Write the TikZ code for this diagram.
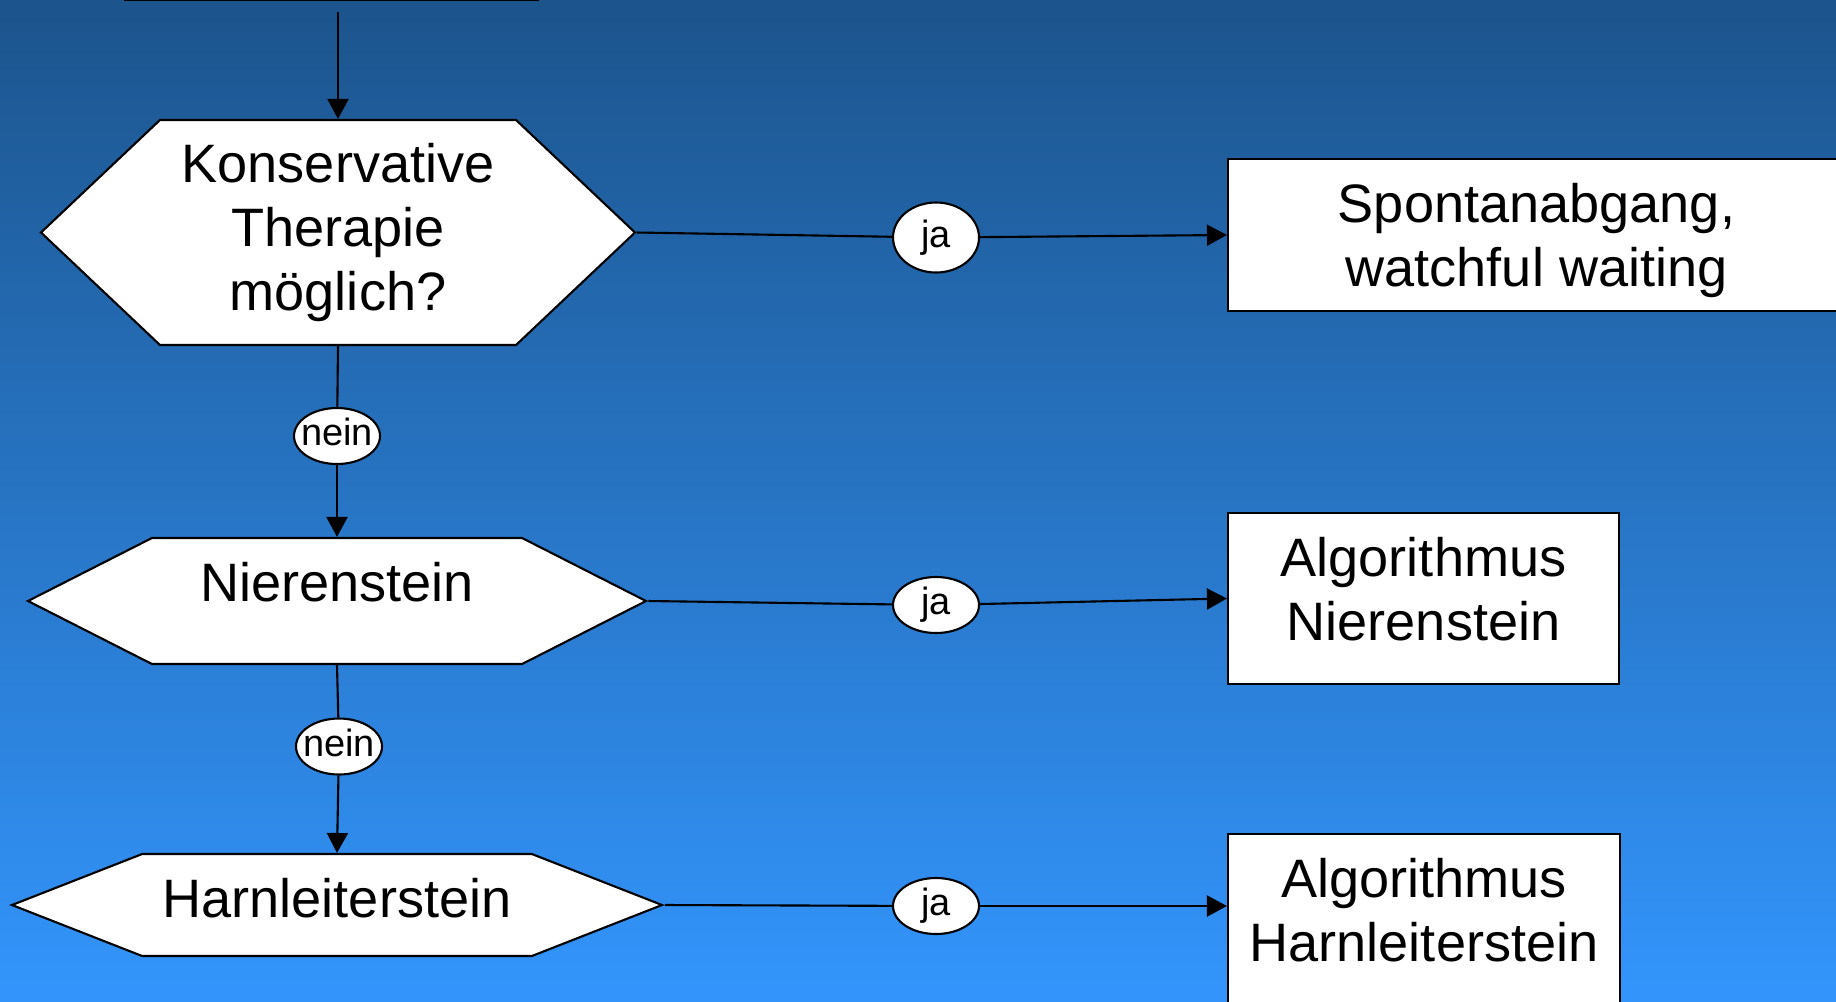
\documentclass[tikz,border=0pt]{standalone}
\usepackage{fontspec}
\setmainfont{Liberation Sans}
\usepackage{tikz}
\usetikzlibrary{arrows.meta}
\usetikzlibrary{shapes.symbols}
\usetikzlibrary{shapes.geometric}
\definecolor{oben}{RGB}{28,84,140}
\definecolor{unten}{RGB}{51,149,252}
\newcommand{\antw}[1]{\makebox[0pt]{#1}}

\begin{document}
\begin{tikzpicture}[frage/.style={draw,fill=white,shape=signal,signal to=west and east,inner sep=0pt,align=center,font=\fontsize{15.4}{18.2}\selectfont},
	kasten/.style={draw,fill=white,rectangle,inner sep=0pt,align=center,font=\fontsize{15.4}{18.2}\selectfont},
	antwort/.style={draw,fill=white,ellipse,inner sep=0pt,minimum width=8.6mm,minimum height=5.6mm,text height=5.6pt,text depth=0pt,font=\fontsize{10.8}{13}\selectfont},
	pfeil/.style={-{Triangle[length=2mm,width=2.1mm]}},line width=0.6pt]
		\useasboundingbox (0,0) rectangle (18.36,-10.01);
		\clip (0,0) rectangle (18.36,-10.01);
		\shade[top color=oben,bottom color=unten] (0,0) rectangle (18.36,-10.01);
		\node[kasten,minimum width=41.3mm,minimum height=10mm] (start) at (3.315,0.5) {};
		\node[frage,minimum width=59.4mm,minimum height=22.5mm,signal pointer angle=86.8,text depth=1.2mm] (konserv) at (3.38,-2.325) {Konservative\\Therapie\\möglich?};
		\node[frage,minimum width=61.8mm,minimum height=12.6mm,signal pointer angle=53.9,text height=0pt,text depth=0pt] (niere) at (3.37,-6.01) {Nierenstein};
		\node[frage,minimum width=65mm,minimum height=10.2mm,signal pointer angle=42.8,text height=2.4mm,text depth=0pt] (harnl) at (3.37,-9.05) {Harnleiterstein};
		\node[antwort] (nein1) at (3.37,-4.36) {\antw{nein}};
		\node[antwort] (nein2) at (3.39,-7.465) {\antw{nein}};
		\node[antwort,minimum height=7mm] (ja1) at (9.36,-2.375) {\antw{ja}};
		\node[antwort] (ja2) at (9.36,-6.05) {\antw{ja}};
		\node[antwort] (ja3) at (9.36,-9.06) {\antw{ja}};
		\node[kasten,minimum width=61.7mm,minimum height=15.2mm,text depth=0pt] (spontan) at (15.365,-2.35) {Spontanabgang,\\watchful waiting};
		\node[kasten,minimum width=39.1mm,minimum height=17.1mm,text depth=2mm] (algniere) at (14.235,-5.985) {Algorithmus\\Nierenstein};
		\node[kasten,minimum width=39.2mm,minimum height=17.1mm,text depth=2mm] (algharnl) at (14.24,-9.195) {Algorithmus\\Harnleiterstein};
		\draw[pfeil,shorten <=1.1mm] (start.south -| konserv.north) -- (konserv.north);
		\draw (konserv.south) -- (nein1);
		\draw[pfeil] (nein1) -- (niere.north);
		\draw (niere.south) -- (nein2);
		\draw[pfeil] (nein2) -- (harnl.north);
		\draw (konserv.east) -- (ja1);
		\draw[pfeil] (ja1) -- (spontan.west);
		\draw (niere.east) -- (ja2);
		\draw[pfeil] (ja2) -- (algniere.west);
		\draw (harnl.east) -- (ja3);
		\draw[pfeil] (ja3) -- (ja3 -| algharnl.west);
\end{tikzpicture}
\end{document}
